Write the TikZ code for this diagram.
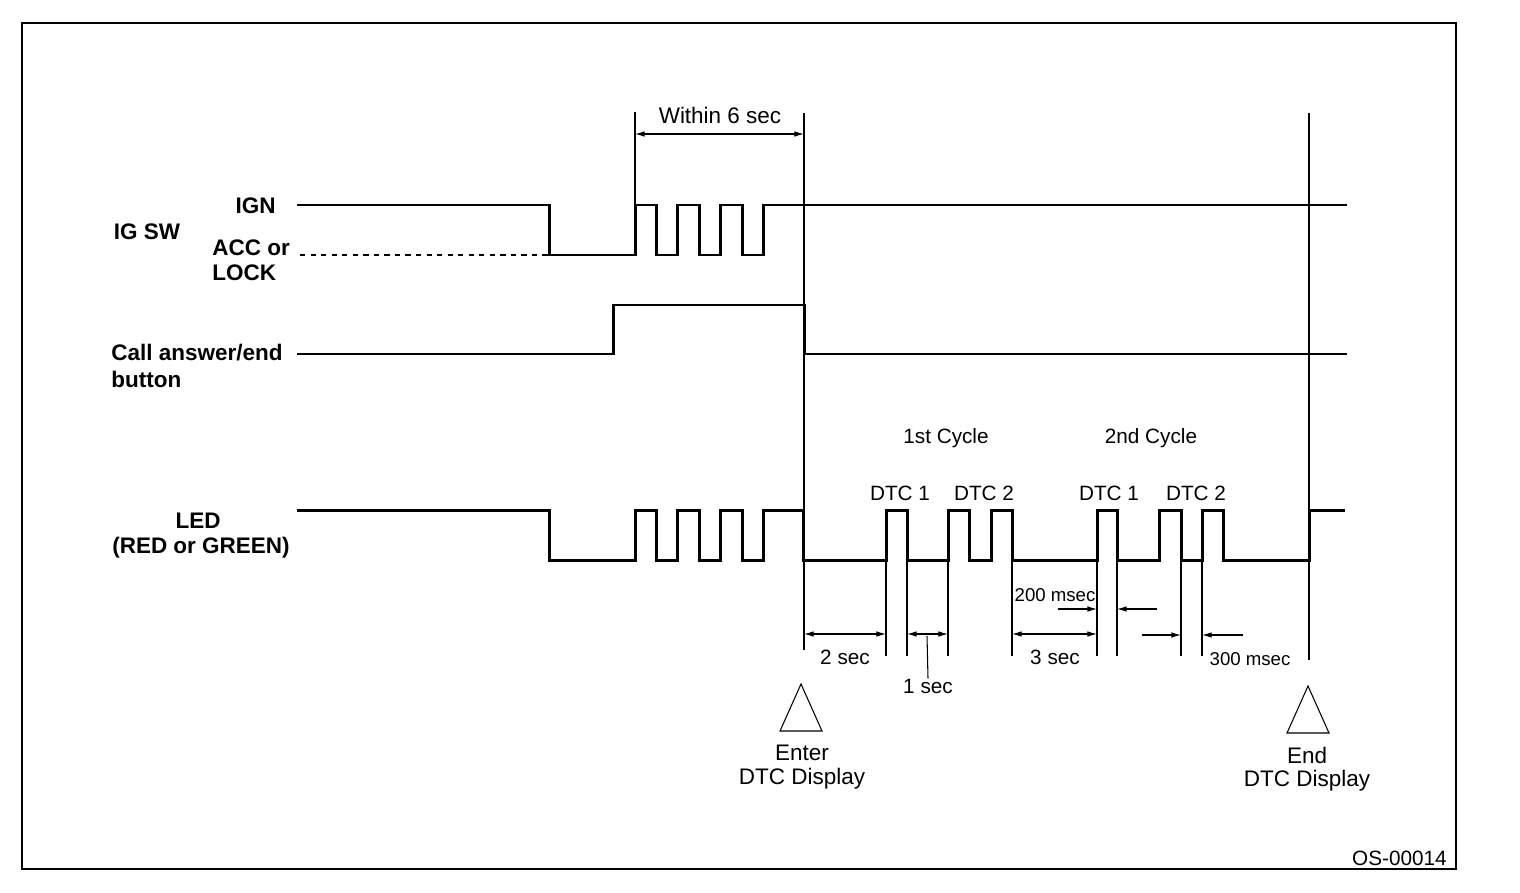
\documentclass[tikz,border=0pt]{standalone}
\usepackage{fontspec}
\setmainfont{Liberation Sans}
\usetikzlibrary{arrows.meta}

\tikzset{
  sig/.style={line width=1.7pt},
  guide/.style={line width=0.6pt},
  dimarrow/.style={line width=0.6pt, {Latex[length=5.5pt,width=3.2pt]}-{Latex[length=5.5pt,width=3.2pt]}},
  halfarrow/.style={line width=0.6pt, -{Latex[length=5.5pt,width=3.2pt]}},
  lbl/.style={inner sep=0pt, font=\fontsize{11.8}{13}\selectfont},
  biglbl/.style={inner sep=0pt, font=\fontsize{12.8}{14}\selectfont},
  smalllbl/.style={inner sep=0pt, font=\fontsize{10.6}{12}\selectfont},
  boldlbl/.style={inner sep=0pt, font=\fontsize{12.8}{14}\selectfont\bfseries}
}

\begin{document}
\begin{tikzpicture}[x=0.02cm, y=-0.02cm]
    \useasboundingbox (0,0) rectangle (1520,892);
    \draw [line width=0.8pt] (22,23) rectangle (1456,869);

    % signal names
    \node [boldlbl] (igsw) at (147,232) {IG SW};
    \node [boldlbl, anchor=east] (ign) at (276,206) {IGN};
    \node [boldlbl, anchor=west] (acc) at (212,248) {ACC or};
    \node [boldlbl, anchor=west] (lock) at (212,273) {LOCK};
    \node [boldlbl, anchor=west] (call) at (111,353) {Call answer/end};
    \node [boldlbl, anchor=west] (button) at (111,379) {button};
    \node [boldlbl] (led) at (198,521) {LED};
    \node [boldlbl] (ledcol) at (201,548) {(RED or GREEN)};

    % waveforms
    \draw [guide, dashed] (300,255) -- (549,255);
    \draw [sig] (297,205) -| (549,255) -| (635,205) -| (656,255) -| (677,205)
      -| (699,255) -| (720,205) -| (742,255) -| (763,205) -- (1347,205);
    \draw [sig] (297,354) -| (613,305) -| (804,354) -- (1347,354);
    \draw [sig] (297,510) -| (549,560) -| (635,510) -| (656,560) -| (677,510)
      -| (699,560) -| (720,510) -| (742,560) -| (763,510) -| (803,560)
      -| (886,510) -| (907,560) -| (948,510) -| (969,560) -| (991,510)
      -| (1012,560) -| (1097,510) -| (1117,560) -| (1159,510) -| (1181,560)
      -| (1202,510) -| (1223,560) -| (1309,510) -- (1345,510);

    % guide lines
    \draw [guide] (635,112) -- (635,205);
    \draw [guide] (804,113) -- (804,650);
    \draw [guide] (1309,113) -- (1309,660);
    \foreach \x in {886,907,948,1012,1097,1117,1181,1202}
      \draw [guide] (\x,560) -- (\x,656);

    % within 6 sec
    \coordinate (w1) at (635,134);
    \coordinate (w2) at (804,134);
    \draw [dimarrow] (w1) -- (w2);
    \node [biglbl] (within) at (720,115) {Within 6 sec};

    % cycles
    \node [lbl] (cyc1) at (946,438) {1st Cycle};
    \node [lbl] (cyc2) at (1151,438) {2nd Cycle};
    \node [lbl] (d11) at (900,493) {DTC 1};
    \node [lbl] (d12) at (984,493) {DTC 2};
    \node [lbl] (d21) at (1109,493) {DTC 1};
    \node [lbl] (d22) at (1196,493) {DTC 2};

    % times
    \coordinate (a1) at (804,634);
    \coordinate (a2) at (886,634);
    \coordinate (a3) at (907,634);
    \coordinate (a4) at (948,634);
    \coordinate (a5) at (1012,634);
    \coordinate (a6) at (1097,634);
    \draw [dimarrow] (a1) -- (a2);
    \draw [dimarrow] (a3) -- (a4);
    \draw [dimarrow] (a5) -- (a6);
    \node [lbl] (t2) at (845,657) {2 sec};
    \node [lbl] (t1) at (928,686) {1 sec};
    \draw [guide] (927,636) -- (t1.north);
    \node [lbl] (t3) at (1055,657) {3 sec};

    \coordinate (b1) at (1058,609);
    \coordinate (b2) at (1097,609);
    \coordinate (b3) at (1157,609);
    \coordinate (b4) at (1117,609);
    \draw [halfarrow] (b1) -- (b2);
    \draw [halfarrow] (b3) -- (b4);
    \node [smalllbl] (t200) at (1055,595) {200 msec};

    \coordinate (c1) at (1142,635);
    \coordinate (c2) at (1181,635);
    \coordinate (c3) at (1243,635);
    \coordinate (c4) at (1202,635);
    \draw [halfarrow] (c1) -- (c2);
    \draw [halfarrow] (c3) -- (c4);
    \node [smalllbl] (t300) at (1250,659) {300 msec};

    % markers
    \draw [guide] (801,684) -- (780,731) -- (822,731) -- cycle;
    \node [biglbl] (enter) at (802,753) {Enter};
    \node [biglbl] (enterdtc) at (802,779) {DTC Display};
    \draw [guide] (1308,686) -- (1287,733) -- (1329,733) -- cycle;
    \node [biglbl] (end) at (1307,755) {End};
    \node [biglbl] (enddtc) at (1307,781) {DTC Display};

    \node [lbl, anchor=east] (code) at (1447,858) {OS-00014};
\end{tikzpicture}
\end{document}
